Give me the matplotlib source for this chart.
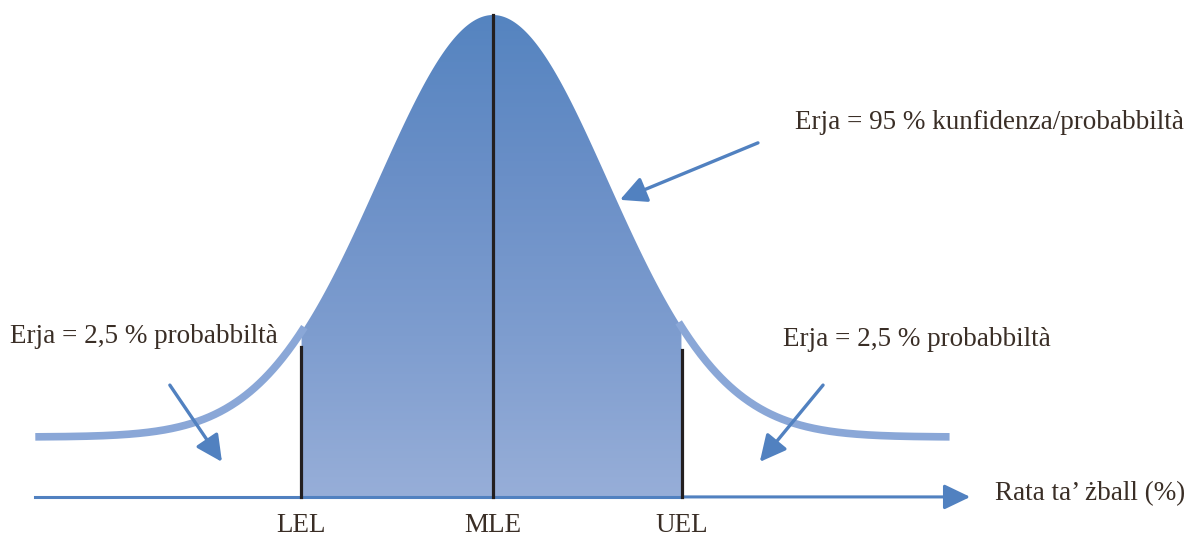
import numpy as np
import matplotlib.pyplot as plt
from matplotlib.colors import LinearSegmentedColormap

# curve parameters (standardised units, MLE at 0)
mle = 0.0
lel = -1.67
uel = 1.643
sigma = 1.0
x_left, x_right = -3.98, 3.97
axis_y = -0.142
axis_end = 4.15
lel_top = 0.213
uel_top = 0.206

tick_pos = [lel, mle, uel]
tick_labels = ["LEL", "MLE", "UEL"]

txt_mid = "Erja = 95 % kunfidenza/probabbiltà"
txt_tail = "Erja = 2,5 % probabbiltà"
txt_axis = "Rata ta\u2019 żball (%)"

blue = "#5181c0"
txt_col = "#3a2e26"
font = "Liberation Serif"
fs = 19.5

fig = plt.figure(figsize=(11.97, 5.49), dpi=100)
ax = fig.add_axes([0, 0, 1, 1])
ax.set_xlim(-493 / 115, (1197 - 493) / 115)
ax.set_ylim(-(549 - 437) / 422, 437 / 422)
ax.axis("off")

x = np.linspace(x_left, x_right, 1000)
y = np.exp(-0.5 * ((x - mle) / sigma) ** 2)

# gradient fill between LEL and UEL
cmap = LinearSegmentedColormap.from_list(
    "g", ["#97aed8", "#7e9dcf", "#6a8fc7", "#5584c0"])
grad = np.linspace(0, 1, 256).reshape(-1, 1)
img = ax.imshow(grad, extent=[lel, uel, axis_y, 1.0], origin="lower",
                cmap=cmap, aspect="auto", zorder=1, interpolation="bilinear")
mask = (x >= lel) & (x <= uel)
xs = np.concatenate([[lel], x[mask], [uel]])
ys = np.concatenate([[axis_y], y[mask], [axis_y]])
poly = ax.fill(xs, ys, facecolor="none", edgecolor="none")[0]
img.set_clip_path(poly)

# tails as thick lines
left = x <= lel + 0.03
right = x >= uel - 0.03
ax.plot(x[left], y[left], color="#8aa7d7", lw=5.5, solid_capstyle="butt", zorder=2)
ax.plot(x[right], y[right], color="#8aa7d7", lw=5.5, solid_capstyle="butt", zorder=2)

# x axis with arrow
ax.plot([x_left, uel], [axis_y, axis_y], color=blue, lw=2.2, zorder=3)
ax.annotate("", xy=(axis_end, axis_y), xytext=(uel, axis_y),
            arrowprops=dict(arrowstyle="-|>,head_length=1.0,head_width=0.48",
                            mutation_scale=16, color=blue, lw=2.2,
                            shrinkA=0, shrinkB=0),
            zorder=3)

# vertical limit lines
tops = [lel_top, 1.0, uel_top]
for p, t in zip(tick_pos, tops):
    ax.plot([p, p], [axis_y, t], color="#231f20", lw=2.3, zorder=4)

for p, lab in zip(tick_pos, tick_labels):
    ax.text(p, -0.21, lab, ha="center", va="center", fontsize=fs,
            family=font, color=txt_col)

# annotations
arrow_kw = dict(arrowstyle="-|>,head_length=1.0,head_width=0.5",
                mutation_scale=16, color=blue, lw=2.4, shrinkA=0, shrinkB=0)
ax.annotate("", xy=(-2.357, -0.059), xytext=(-2.81, 0.123), arrowprops=arrow_kw)
ax.annotate("", xy=(2.32, -0.059), xytext=(2.87, 0.123), arrowprops=arrow_kw)
ax.annotate("", xy=(1.104, 0.562), xytext=(2.304, 0.697), arrowprops=arrow_kw)

ax.text(-4.2, 0.237, txt_tail, ha="left", va="center", fontsize=fs,
        family=font, color=txt_col)
ax.text(2.52, 0.23, txt_tail, ha="left", va="center", fontsize=fs,
        family=font, color=txt_col)
ax.text(2.626, 0.746, txt_mid, ha="left", va="center", fontsize=fs,
        family=font, color=txt_col)
ax.text(4.365, -0.133, txt_axis, ha="left", va="center", fontsize=fs,
        family=font, color=txt_col)

fig.savefig("out.png", dpi=100)
